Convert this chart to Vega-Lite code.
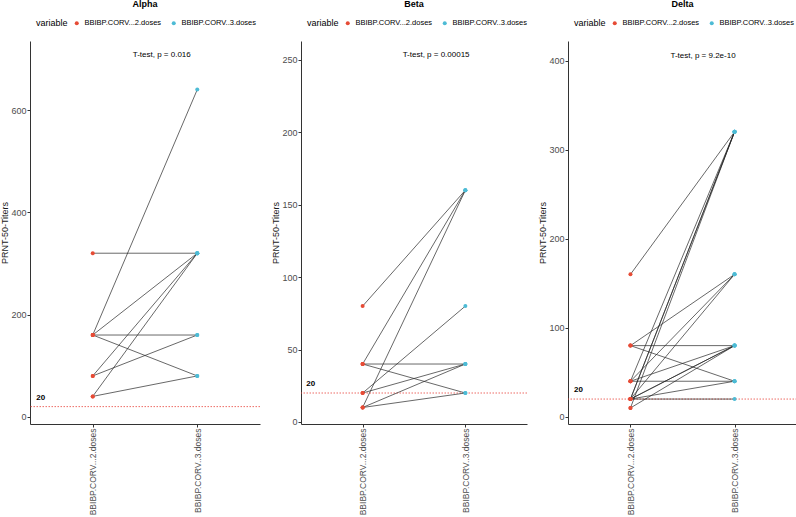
{
  "$schema": "https://vega.github.io/schema/vega-lite/v6.json",
  "background": "white",
  "padding": {"left": 0, "top": 0, "right": 0, "bottom": 0},
  "spacing": 10,
  "datasets": {
    "alpha": [
      {"id": "a1", "variable": "BBIBP.CORV...2.doses", "titer": 320}, {"id": "a1", "variable": "BBIBP.CORV..3.doses", "titer": 320},
      {"id": "a2", "variable": "BBIBP.CORV...2.doses", "titer": 160}, {"id": "a2", "variable": "BBIBP.CORV..3.doses", "titer": 640},
      {"id": "a3", "variable": "BBIBP.CORV...2.doses", "titer": 160}, {"id": "a3", "variable": "BBIBP.CORV..3.doses", "titer": 320},
      {"id": "a4", "variable": "BBIBP.CORV...2.doses", "titer": 160}, {"id": "a4", "variable": "BBIBP.CORV..3.doses", "titer": 160},
      {"id": "a5", "variable": "BBIBP.CORV...2.doses", "titer": 160}, {"id": "a5", "variable": "BBIBP.CORV..3.doses", "titer": 80},
      {"id": "a6", "variable": "BBIBP.CORV...2.doses", "titer": 80}, {"id": "a6", "variable": "BBIBP.CORV..3.doses", "titer": 320},
      {"id": "a7", "variable": "BBIBP.CORV...2.doses", "titer": 80}, {"id": "a7", "variable": "BBIBP.CORV..3.doses", "titer": 160},
      {"id": "a8", "variable": "BBIBP.CORV...2.doses", "titer": 40}, {"id": "a8", "variable": "BBIBP.CORV..3.doses", "titer": 320},
      {"id": "a9", "variable": "BBIBP.CORV...2.doses", "titer": 40}, {"id": "a9", "variable": "BBIBP.CORV..3.doses", "titer": 80}
    ],
    "beta": [
      {"id": "b1", "variable": "BBIBP.CORV...2.doses", "titer": 80}, {"id": "b1", "variable": "BBIBP.CORV..3.doses", "titer": 160},
      {"id": "b2", "variable": "BBIBP.CORV...2.doses", "titer": 40}, {"id": "b2", "variable": "BBIBP.CORV..3.doses", "titer": 160},
      {"id": "b3", "variable": "BBIBP.CORV...2.doses", "titer": 40}, {"id": "b3", "variable": "BBIBP.CORV..3.doses", "titer": 40},
      {"id": "b4", "variable": "BBIBP.CORV...2.doses", "titer": 40}, {"id": "b4", "variable": "BBIBP.CORV..3.doses", "titer": 20},
      {"id": "b5", "variable": "BBIBP.CORV...2.doses", "titer": 20}, {"id": "b5", "variable": "BBIBP.CORV..3.doses", "titer": 80},
      {"id": "b6", "variable": "BBIBP.CORV...2.doses", "titer": 20}, {"id": "b6", "variable": "BBIBP.CORV..3.doses", "titer": 40},
      {"id": "b7", "variable": "BBIBP.CORV...2.doses", "titer": 10}, {"id": "b7", "variable": "BBIBP.CORV..3.doses", "titer": 160},
      {"id": "b8", "variable": "BBIBP.CORV...2.doses", "titer": 10}, {"id": "b8", "variable": "BBIBP.CORV..3.doses", "titer": 40},
      {"id": "b9", "variable": "BBIBP.CORV...2.doses", "titer": 10}, {"id": "b9", "variable": "BBIBP.CORV..3.doses", "titer": 20}
    ],
    "delta": [
      {"id": "d1", "variable": "BBIBP.CORV...2.doses", "titer": 160}, {"id": "d1", "variable": "BBIBP.CORV..3.doses", "titer": 320},
      {"id": "d2", "variable": "BBIBP.CORV...2.doses", "titer": 80}, {"id": "d2", "variable": "BBIBP.CORV..3.doses", "titer": 160},
      {"id": "d3", "variable": "BBIBP.CORV...2.doses", "titer": 80}, {"id": "d3", "variable": "BBIBP.CORV..3.doses", "titer": 80},
      {"id": "d4", "variable": "BBIBP.CORV...2.doses", "titer": 80}, {"id": "d4", "variable": "BBIBP.CORV..3.doses", "titer": 40},
      {"id": "d5", "variable": "BBIBP.CORV...2.doses", "titer": 40}, {"id": "d5", "variable": "BBIBP.CORV..3.doses", "titer": 320},
      {"id": "d6", "variable": "BBIBP.CORV...2.doses", "titer": 40}, {"id": "d6", "variable": "BBIBP.CORV..3.doses", "titer": 160},
      {"id": "d7", "variable": "BBIBP.CORV...2.doses", "titer": 40}, {"id": "d7", "variable": "BBIBP.CORV..3.doses", "titer": 80},
      {"id": "d8", "variable": "BBIBP.CORV...2.doses", "titer": 40}, {"id": "d8", "variable": "BBIBP.CORV..3.doses", "titer": 40},
      {"id": "d9", "variable": "BBIBP.CORV...2.doses", "titer": 20}, {"id": "d9", "variable": "BBIBP.CORV..3.doses", "titer": 320},
      {"id": "d10", "variable": "BBIBP.CORV...2.doses", "titer": 20}, {"id": "d10", "variable": "BBIBP.CORV..3.doses", "titer": 320},
      {"id": "d11", "variable": "BBIBP.CORV...2.doses", "titer": 20}, {"id": "d11", "variable": "BBIBP.CORV..3.doses", "titer": 160},
      {"id": "d12", "variable": "BBIBP.CORV...2.doses", "titer": 20}, {"id": "d12", "variable": "BBIBP.CORV..3.doses", "titer": 80},
      {"id": "d13", "variable": "BBIBP.CORV...2.doses", "titer": 20}, {"id": "d13", "variable": "BBIBP.CORV..3.doses", "titer": 80},
      {"id": "d14", "variable": "BBIBP.CORV...2.doses", "titer": 20}, {"id": "d14", "variable": "BBIBP.CORV..3.doses", "titer": 40},
      {"id": "d15", "variable": "BBIBP.CORV...2.doses", "titer": 20}, {"id": "d15", "variable": "BBIBP.CORV..3.doses", "titer": 20},
      {"id": "d16", "variable": "BBIBP.CORV...2.doses", "titer": 10}, {"id": "d16", "variable": "BBIBP.CORV..3.doses", "titer": 320},
      {"id": "d17", "variable": "BBIBP.CORV...2.doses", "titer": 10}, {"id": "d17", "variable": "BBIBP.CORV..3.doses", "titer": 80}
    ]
  },
  "resolve": {"legend": {"color": "independent"}, "scale": {"color": "independent", "y": "independent"}},
  "hconcat": [
    {
      "title": {"text": "Alpha"},
      "width": 230, "height": 383,
      "encoding": {
        "x": {"field": "variable", "type": "nominal", "title": null,
              "scale": {"type": "point", "padding": 0.6, "domain": ["BBIBP.CORV...2.doses", "BBIBP.CORV..3.doses"]}},
        "y": {"field": "titer", "type": "quantitative", "title": "PRNT-50-Titers",
              "scale": {"domain": [-14, 735], "nice": false, "zero": false},
              "axis": {"values": [0, 200, 400, 600]}}
      },
      "layer": [
        {"data": {"values": [{"titer": 20}]}, "mark": {"type": "rule", "color": "#E8453C", "strokeDash": [1.5, 1.5], "strokeWidth": 0.8}, "encoding": {"x": null}},
        {"data": {"name": "alpha"}, "mark": {"type": "line", "color": "#262626", "strokeWidth": 0.7}, "encoding": {"detail": {"field": "id"}}},
        {"data": {"name": "alpha"}, "mark": {"type": "circle", "opacity": 1, "size": 16},
         "encoding": {"color": {"field": "variable", "type": "nominal", "title": "variable",
           "scale": {"domain": ["BBIBP.CORV...2.doses", "BBIBP.CORV..3.doses"], "range": ["#E64B35", "#4DBBD5"]},
           "legend": {"orient": "none", "legendX": 6, "legendY": -22}}}},
        {"data": {"values": [{"variable": "BBIBP.CORV...2.doses", "titer": 708, "label": "T-test, p = 0.016"}]},
         "mark": {"type": "text", "align": "left", "baseline": "middle", "dx": 40, "fontSize": 8, "color": "black"},
         "encoding": {"text": {"field": "label"}}},
        {"data": {"values": [{"variable": "BBIBP.CORV...2.doses", "titer": 20, "label": "20"}]},
         "mark": {"type": "text", "align": "center", "baseline": "middle", "dx": -52, "dy": -9, "fontSize": 8, "fontWeight": "bold", "color": "black"},
         "encoding": {"text": {"field": "label"}}}
      ]
    },
    {
      "title": {"text": "Beta"},
      "width": 226, "height": 383,
      "encoding": {
        "x": {"field": "variable", "type": "nominal", "title": null,
              "scale": {"type": "point", "padding": 0.6, "domain": ["BBIBP.CORV...2.doses", "BBIBP.CORV..3.doses"]}},
        "y": {"field": "titer", "type": "quantitative", "title": "PRNT-50-Titers",
              "scale": {"domain": [-1.4, 263], "nice": false, "zero": false},
              "axis": {"values": [0, 50, 100, 150, 200, 250]}}
      },
      "layer": [
        {"data": {"values": [{"titer": 20}]}, "mark": {"type": "rule", "color": "#E8453C", "strokeDash": [1.5, 1.5], "strokeWidth": 0.8}, "encoding": {"x": null}},
        {"data": {"name": "beta"}, "mark": {"type": "line", "color": "#262626", "strokeWidth": 0.7}, "encoding": {"detail": {"field": "id"}}},
        {"data": {"name": "beta"}, "mark": {"type": "circle", "opacity": 1, "size": 16},
         "encoding": {"color": {"field": "variable", "type": "nominal", "title": "variable",
           "scale": {"domain": ["BBIBP.CORV...2.doses", "BBIBP.CORV..3.doses"], "range": ["#E64B35", "#4DBBD5"]},
           "legend": {"orient": "none", "legendX": 6, "legendY": -22}}}},
        {"data": {"values": [{"variable": "BBIBP.CORV...2.doses", "titer": 253, "label": "T-test, p = 0.00015"}]},
         "mark": {"type": "text", "align": "left", "baseline": "middle", "dx": 40, "fontSize": 8, "color": "black"},
         "encoding": {"text": {"field": "label"}}},
        {"data": {"values": [{"variable": "BBIBP.CORV...2.doses", "titer": 20, "label": "20"}]},
         "mark": {"type": "text", "align": "center", "baseline": "middle", "dx": -52, "dy": -9, "fontSize": 8, "fontWeight": "bold", "color": "black"},
         "encoding": {"text": {"field": "label"}}}
      ]
    },
    {
      "title": {"text": "Delta"},
      "width": 229, "height": 383,
      "encoding": {
        "x": {"field": "variable", "type": "nominal", "title": null,
              "scale": {"type": "point", "padding": 0.6, "domain": ["BBIBP.CORV...2.doses", "BBIBP.CORV..3.doses"]}},
        "y": {"field": "titer", "type": "quantitative", "title": "PRNT-50-Titers",
              "scale": {"domain": [-8, 422], "nice": false, "zero": false},
              "axis": {"values": [0, 100, 200, 300, 400]}}
      },
      "layer": [
        {"data": {"values": [{"titer": 20}]}, "mark": {"type": "rule", "color": "#E8453C", "strokeDash": [1.5, 1.5], "strokeWidth": 0.8}, "encoding": {"x": null}},
        {"data": {"name": "delta"}, "mark": {"type": "line", "color": "#262626", "strokeWidth": 0.7}, "encoding": {"detail": {"field": "id"}}},
        {"data": {"name": "delta"}, "mark": {"type": "circle", "opacity": 1, "size": 16},
         "encoding": {"color": {"field": "variable", "type": "nominal", "title": "variable",
           "scale": {"domain": ["BBIBP.CORV...2.doses", "BBIBP.CORV..3.doses"], "range": ["#E64B35", "#4DBBD5"]},
           "legend": {"orient": "none", "legendX": 6, "legendY": -22}}}},
        {"data": {"values": [{"variable": "BBIBP.CORV...2.doses", "titer": 405, "label": "T-test, p = 9.2e-10"}]},
         "mark": {"type": "text", "align": "left", "baseline": "middle", "dx": 40, "fontSize": 8, "color": "black"},
         "encoding": {"text": {"field": "label"}}},
        {"data": {"values": [{"variable": "BBIBP.CORV...2.doses", "titer": 20, "label": "20"}]},
         "mark": {"type": "text", "align": "center", "baseline": "middle", "dx": -52, "dy": -9, "fontSize": 8, "fontWeight": "bold", "color": "black"},
         "encoding": {"text": {"field": "label"}}}
      ]
    }
  ],
  "config": {
    "font": "Liberation Sans",
    "view": {"stroke": null},
    "title": {"fontSize": 9, "fontWeight": "bold", "color": "black", "frame": "group", "anchor": "middle", "offset": 10},
    "axis": {
      "grid": false, "domainColor": "#333333", "domainWidth": 1, "tickColor": "#333333", "tickSize": 3,
      "labelFont": "Liberation Sans", "labelFontSize": 9, "labelColor": "#4d4d4d", "labelPadding": 1,
      "titleFont": "Liberation Sans", "titleFontSize": 9, "titleFontWeight": "normal", "titleColor": "#1a1a1a", "titlePadding": 1
    },
    "axisX": {"labelAngle": -90, "labelColor": "#4d4d4d", "labelFontSize": 8.5},
    "legend": {
      "direction": "horizontal", "titleOrient": "left",
      "titleFontSize": 9, "titleFontWeight": "normal", "titleColor": "black", "titleFont": "Liberation Sans",
      "labelFontSize": 7.5, "labelFont": "Liberation Sans", "labelColor": "black",
      "symbolType": "circle", "symbolSize": 16, "symbolStrokeWidth": 0, "columnPadding": 8, "padding": 0
    }
  }
}
